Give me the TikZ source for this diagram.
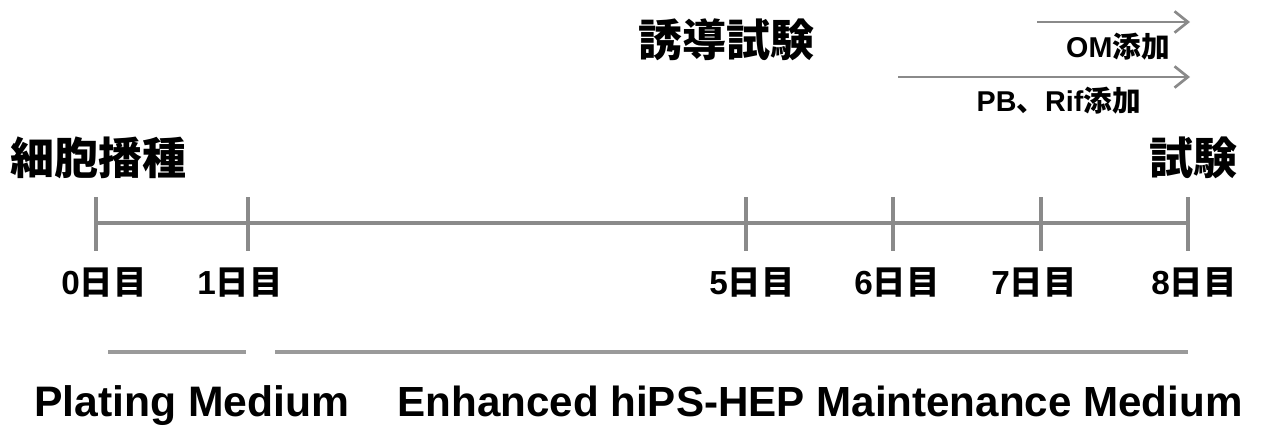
\documentclass[tikz,border=0pt]{standalone}
\usepackage{fontspec}
\setmainfont{Liberation Sans}
\newfontfamily\cjk{Noto Sans CJK JP}
\usetikzlibrary{arrows.meta}
\definecolor{lineg}{HTML}{8A8A8A}
\definecolor{barg}{HTML}{9A9A9A}
\tikzset{
  axis/.style={draw=lineg, line width=3.2pt},
  tick/.style={draw=lineg, line width=3.2pt},
  medbar/.style={draw=barg, line width=3.2pt},
  addarrow/.style={draw=lineg, line width=2pt, -{Straight Barb[length=10pt,width=16pt,line width=2pt]}},
  lbl/.style={inner sep=0pt, font=\bfseries},
}
\newcommand{\dlab}[1]{\fontsize{25}{25}\selectfont\bfseries #1{\cjk\bfseries 日目}}
\begin{document}
\begin{tikzpicture}[x=0.75pt,y=-0.75pt]
\useasboundingbox (0,0) rectangle (1277,428);
% tick coordinates
\foreach \n/\x in {0/96,1/248,5/746,6/893,7/1041,8/1188}{
  \coordinate (t\n) at (\x,223);
  \coordinate (tt\n) at (\x,197);
  \coordinate (tb\n) at (\x,251);
}
\draw[axis] (t0) -- (t8);
\foreach \n in {0,1,5,6,7,8}{ \draw[tick] (tt\n) -- (tb\n); }
% day labels
\node[lbl, anchor=base] (d0) at (104,294) {\dlab{0}};
\node[lbl, anchor=base] (d1) at (240,294) {\dlab{1}};
\node[lbl, anchor=base] (d5) at (752,294) {\dlab{5}};
\node[lbl, anchor=base] (d6) at (897,294) {\dlab{6}};
\node[lbl, anchor=base] (d7) at (1034,294) {\dlab{7}};
\node[lbl, anchor=base] (d8) at (1194,294) {\dlab{8}};
% big titles
\node[lbl] (seed) at (99,158) {\fontsize{33}{33}\selectfont\cjk\bfseries 細胞播種};
\node[lbl] (test) at (1193,158) {\fontsize{33}{33}\selectfont\cjk\bfseries 試験};
\node[lbl] (induce) at (726,40) {\fontsize{33}{33}\selectfont\cjk\bfseries 誘導試験};
% addition arrows
\coordinate (oms) at (1037,22);
\coordinate (ome) at (1190,22);
\coordinate (pbs) at (898,77);
\coordinate (pbe) at (1190,77);
\draw[addarrow] (oms) -- (ome);
\draw[addarrow] (pbs) -- (pbe);
\node[lbl, anchor=base east] (om) at (1170,58) {\fontsize{21.5}{21.5}\selectfont\bfseries OM{\cjk\bfseries 添加}};
\node[lbl, anchor=base east] (pb) at (1141,112) {\fontsize{21.5}{21.5}\selectfont\bfseries PB{\cjk\bfseries 、}Rif{\cjk\bfseries 添加}};
% medium bars
\coordinate (p1) at (108,352);
\coordinate (p2) at (246,352);
\coordinate (e1) at (275,352);
\coordinate (e2) at (1188,352);
\draw[medbar] (p1) -- (p2);
\draw[medbar] (e1) -- (e2);
\node[lbl, anchor=base] (plating) at (192,416) {\fontsize{32}{32}\selectfont\bfseries Plating Medium};
\node[lbl, anchor=base] (enh) at (820,416) {\fontsize{31.6}{31.6}\selectfont\bfseries Enhanced hiPS-HEP Maintenance Medium};
\end{tikzpicture}
\end{document}
